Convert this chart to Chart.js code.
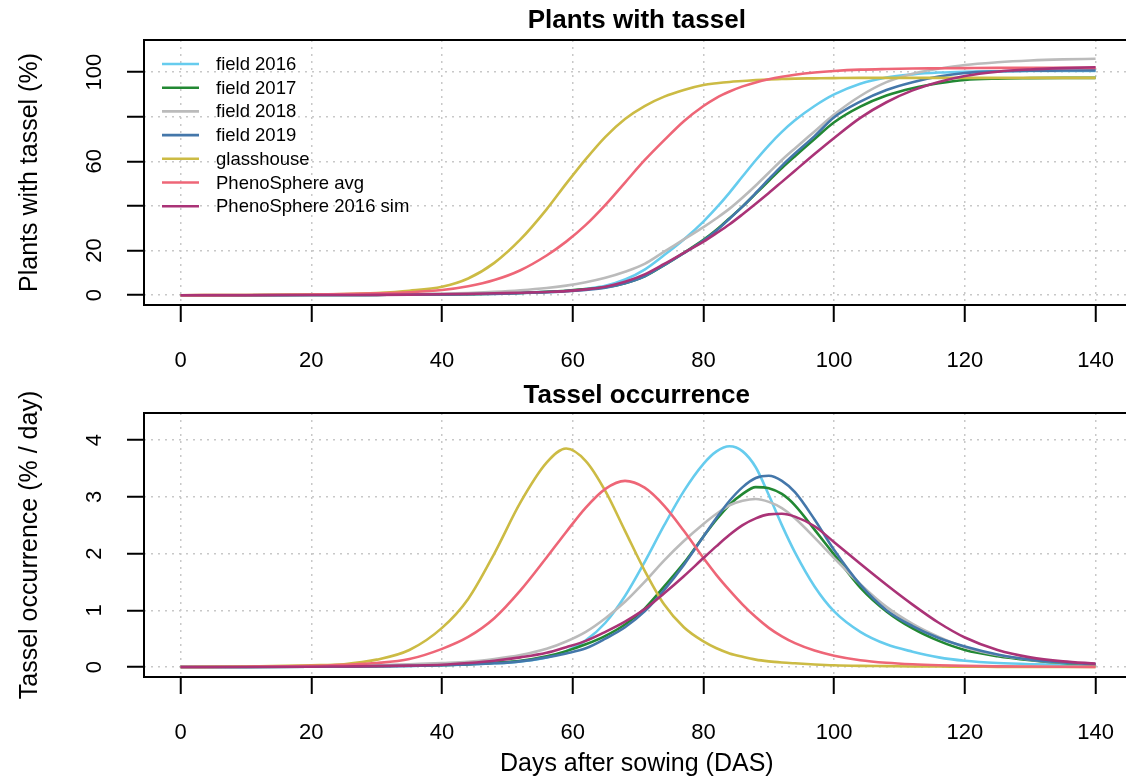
<!DOCTYPE html>
<html>
<head>
<meta charset="utf-8">
<script src="https://cdn.jsdelivr.net/npm/chart.js@4.4.1/dist/chart.umd.min.js"></script>
<style>
html, body { margin: 0; padding: 0; background: #fff; overflow: hidden; width: 1126px; height: 777px; }
canvas { position: absolute; left: 0; }
#topChart { top: 0; }
#bottomChart { top: 380px; }
</style>
</head>
<body>
<canvas id="topChart" width="1140" height="380"></canvas>
<canvas id="bottomChart" width="1140" height="397"></canvas>
<script>
// days after sowing, shared by every series
const days = [0, 10, 20, 25, 30, 35, 40, 44, 48, 52, 56, 59, 62, 65, 68, 71, 74, 77, 80, 82, 84, 86, 88, 90, 92, 94, 97, 100, 104, 108, 112, 116, 120, 125, 130, 135, 140];

const seriesNames = ["field 2016", "field 2017", "field 2018", "field 2019", "glasshouse", "PhenoSphere avg", "PhenoSphere 2016 sim"];
const seriesColors = ["#66CCEE", "#228833", "#BBBBBB", "#4477AA", "#CCBB44", "#EE6677", "#AA3377"];

// plants with tassel (%)
const tasselField2016 = [0, 0, 0.1, 0.1, 0.2, 0.3, 0.4, 0.6, 0.8, 1.1, 1.5, 1.9, 2.8, 4.2, 7, 11.5, 18, 25, 33, 39.2, 46, 53.3, 60.5, 67.2, 73.2, 78.4, 84.8, 90, 94.8, 97.6, 99, 99.8, 100.2, 100.4, 100.5, 100.5, 100.5];
const tasselField2017 = [0, 0, 0.05, 0.1, 0.15, 0.2, 0.3, 0.45, 0.65, 1, 1.5, 2, 2.7, 3.6, 5.4, 8.5, 13.5, 19, 24.8, 29.3, 34.5, 39.8, 45.5, 51.3, 57, 62.3, 70, 77.5, 84.5, 89.5, 92.8, 95, 96.5, 97.1, 97.3, 97.4, 97.4];
const tasselField2018 = [0, 0.1, 0.2, 0.3, 0.4, 0.5, 0.7, 1, 1.5, 2.2, 3.2, 4.3, 5.8, 7.8, 10.5, 14, 19.5, 25, 30.5, 34.5, 38.8, 43.8, 49.2, 54.9, 60.6, 65.8, 73.4, 81, 89.3, 95.5, 99.3, 101.5, 103.2, 104.4, 105.2, 105.7, 106];
const tasselField2019 = [0, 0, 0.05, 0.1, 0.15, 0.2, 0.3, 0.4, 0.6, 0.9, 1.3, 1.8, 2.4, 3.4, 5.4, 8.5, 13.5, 18.8, 24.5, 29, 34.3, 39.8, 45.8, 52, 58, 63.5, 71.3, 79.8, 86.8, 92, 95.5, 98, 99.6, 100.3, 100.6, 100.7, 100.8];
const tasselGlasshouse = [0, 0.1, 0.3, 0.5, 1, 2, 3.8, 7.5, 14.5, 25, 38.5, 50, 61, 71, 79, 84.8, 89, 92, 94.2, 95, 95.6, 96, 96.4, 96.7, 96.9, 97.1, 97.2, 97.3, 97.4, 97.4, 97.4, 97.4, 97.4, 97.4, 97.4, 97.4, 97.4];
const tasselPhenoAvg = [0, 0.1, 0.3, 0.5, 0.8, 1.3, 2.3, 4, 6.8, 11.2, 17.8, 24, 31.5, 40.5, 50.5, 60.5, 69.5, 78, 84.8, 88.5, 91.3, 93.6, 95.4, 96.8, 97.9, 98.8, 99.8, 100.5, 101.1, 101.4, 101.6, 101.7, 101.8, 101.9, 101.9, 101.9, 101.9];
const tasselPheno2016 = [0, 0, 0.05, 0.1, 0.15, 0.25, 0.4, 0.6, 0.85, 1.1, 1.45, 1.8, 2.6, 3.8, 6, 9.3, 14, 19, 24, 27.8, 31.8, 36.3, 41, 45.8, 50.8, 55.8, 63.3, 70.5, 79.5, 86.5, 91.8, 95.6, 98.3, 100.2, 101.2, 101.8, 102.2];

// tassel occurrence (% / day)
const rateField2016 = [0, 0, 0.005, 0.01, 0.015, 0.02, 0.03, 0.045, 0.065, 0.1, 0.17, 0.28, 0.47, 0.78, 1.25, 1.85, 2.5, 3.1, 3.58, 3.8, 3.89, 3.8, 3.52, 3.03, 2.5, 2.02, 1.42, 0.98, 0.62, 0.4, 0.27, 0.17, 0.11, 0.07, 0.05, 0.04, 0.03];
const rateField2017 = [0, 0, 0.005, 0.01, 0.015, 0.025, 0.035, 0.05, 0.075, 0.11, 0.19, 0.28, 0.4, 0.55, 0.75, 1.03, 1.42, 1.83, 2.3, 2.6, 2.86, 3.05, 3.17, 3.15, 3.05, 2.85, 2.42, 1.98, 1.4, 0.98, 0.68, 0.46, 0.3, 0.19, 0.12, 0.07, 0.05];
const rateField2018 = [0, 0.005, 0.01, 0.02, 0.03, 0.05, 0.07, 0.09, 0.14, 0.21, 0.32, 0.45, 0.62, 0.86, 1.15, 1.5, 1.88, 2.22, 2.52, 2.7, 2.85, 2.93, 2.96, 2.91, 2.8, 2.62, 2.28, 1.92, 1.46, 1.06, 0.76, 0.53, 0.35, 0.21, 0.13, 0.08, 0.05];
const rateField2019 = [0, 0, 0.005, 0.01, 0.015, 0.02, 0.03, 0.045, 0.065, 0.1, 0.17, 0.24, 0.33, 0.5, 0.7, 0.98, 1.36, 1.8, 2.3, 2.63, 2.93, 3.17, 3.33, 3.37, 3.28, 3.08, 2.6, 2.06, 1.45, 1.0, 0.72, 0.51, 0.36, 0.22, 0.13, 0.08, 0.05];
const rateGlasshouse = [0, 0.01, 0.03, 0.05, 0.13, 0.3, 0.69, 1.2, 2.0, 2.9, 3.6, 3.85, 3.63, 3.1, 2.4, 1.7, 1.1, 0.7, 0.45, 0.33, 0.24, 0.18, 0.13, 0.1, 0.08, 0.065, 0.045, 0.03, 0.02, 0.015, 0.01, 0.008, 0.005, 0.003, 0, 0, 0];
const ratePhenoAvg = [0, 0.005, 0.02, 0.04, 0.07, 0.14, 0.32, 0.53, 0.86, 1.35, 1.93, 2.38, 2.81, 3.14, 3.28, 3.16, 2.84, 2.4, 1.92, 1.62, 1.35, 1.1, 0.88, 0.69, 0.54, 0.42, 0.29, 0.2, 0.12, 0.075, 0.048, 0.031, 0.02, 0.012, 0.008, 0.005, 0.003];
const ratePheno2016 = [0, 0, 0.005, 0.01, 0.015, 0.025, 0.04, 0.07, 0.11, 0.17, 0.25, 0.35, 0.46, 0.62, 0.8, 1.02, 1.3, 1.6, 1.92, 2.13, 2.33, 2.5, 2.62, 2.69, 2.7, 2.65, 2.48, 2.2, 1.82, 1.45, 1.1, 0.78, 0.52, 0.3, 0.17, 0.1, 0.06];

const topSeries = [tasselField2016, tasselField2017, tasselField2018, tasselField2019, tasselGlasshouse, tasselPhenoAvg, tasselPheno2016];
const bottomSeries = [rateField2016, rateField2017, rateField2018, rateField2019, rateGlasshouse, ratePhenoAvg, ratePheno2016];

// labels R kept on the y axes (40 and 80 were dropped for overlap)
const topYLabels = [0, 20, 60, 100];
const bottomYLabels = [0, 1, 2, 3, 4];

const FONT = "'Liberation Sans', Arial, Helvetica, sans-serif";
Chart.defaults.font.family = FONT;
Chart.defaults.color = "#000";

const makeDatasets = series => series.map((values, i) => ({
	label: seriesNames[i],
	data: values.map((v, k) => ({x: days[k], y: v})),
	borderColor: seriesColors[i],
	borderWidth: 2.6,
	pointRadius: 0,
	fill: false,
	cubicInterpolationMode: "monotone",
	order: series.length - i
}));

// box, main title, rotated y labels and y title, like base R
const framePlugin = {
	id: "frame",
	afterDraw(chart, args, opts) {
		const {ctx, chartArea: a} = chart;
		const ys = chart.scales.y;
		ctx.save();
		ctx.strokeStyle = "#000";
		ctx.lineWidth = 2;
		ctx.strokeRect(a.left, a.top, a.right - a.left, a.bottom - a.top);
		ctx.fillStyle = "#000";
		ctx.textAlign = "center";
		ctx.textBaseline = "middle";
		ctx.font = `bold 26px ${FONT}`;
		ctx.fillText(opts.title, (a.left + a.right) / 2, opts.titleY);
		ctx.font = `22px ${FONT}`;
		opts.yLabels.forEach(v => {
			ctx.save();
			ctx.translate(95, ys.getPixelForValue(v));
			ctx.rotate(-Math.PI / 2);
			ctx.fillText(String(v), 0, 0);
			ctx.restore();
		});
		ctx.font = `25px ${FONT}`;
		ctx.save();
		ctx.translate(30, (a.top + a.bottom) / 2);
		ctx.rotate(-Math.PI / 2);
		ctx.fillText(opts.yTitle, 0, 0);
		ctx.restore();
		ctx.restore();
	}
};

// legend inside the top panel, no box
const legendPlugin = {
	id: "insideLegend",
	afterDraw(chart) {
		const {ctx} = chart;
		ctx.save();
		ctx.font = `18.5px ${FONT}`;
		ctx.textBaseline = "middle";
		ctx.textAlign = "left";
		seriesNames.forEach((name, i) => {
			const y = 64 + i * 23.7;
			ctx.strokeStyle = seriesColors[i];
			ctx.lineWidth = 2.6;
			ctx.beginPath();
			ctx.moveTo(162, y);
			ctx.lineTo(199, y);
			ctx.stroke();
			ctx.fillStyle = "#000";
			ctx.fillText(name, 216, y + 1);
		});
		ctx.restore();
	}
};

const gridStyle = {
	color: "#C8C8C8",
	lineWidth: 1.5,
	tickColor: "#000",
	tickWidth: 2,
	tickLength: 17,
	tickBorderDash: []
};
// in Chart.js v4 the grid line dash is read from the border options
const borderStyle = {display: false, dash: [2, 5]};

const baseOptions = (yMin, yMax, yStep, xHeight, padTop, xTitle) => ({
	responsive: false,
	devicePixelRatio: 1,
	animation: false,
	events: [],
	layout: {padding: {top: padTop, right: 2, left: 0, bottom: 0}},
	plugins: {legend: {display: false}, tooltip: {enabled: false}},
	scales: {
		x: {
			type: "linear",
			min: -5.6,
			max: 145.2,
			grid: gridStyle,
			border: borderStyle,
			ticks: {stepSize: 20, includeBounds: false, padding: 26, font: {size: 22}, color: "#000", maxRotation: 0},
			title: xTitle ? {display: true, text: xTitle, font: {size: 25}, color: "#000", padding: {top: 0, bottom: -2}} : {display: false},
			afterFit: s => { s.height = xHeight; }
		},
		y: {
			type: "linear",
			min: yMin,
			max: yMax,
			grid: gridStyle,
			border: borderStyle,
			ticks: {stepSize: yStep, includeBounds: false, display: false},
			afterFit: s => { s.width = 144; }
		}
	}
});

const topOptions = baseOptions(-4.4, 114.4, 20, 75, 40, null);
topOptions.plugins.frame = {title: "Plants with tassel", titleY: 21, yLabels: topYLabels, yTitle: "Plants with tassel (%)"};

new Chart(document.getElementById("topChart"), {
	type: "line",
	data: {datasets: makeDatasets(topSeries)},
	options: topOptions,
	plugins: [framePlugin, legendPlugin]
});

const bottomOptions = baseOptions(-0.176, 4.476, 1, 100, 33, "Days after sowing (DAS)");
bottomOptions.plugins.frame = {title: "Tassel occurrence", titleY: 16, yLabels: bottomYLabels, yTitle: "Tassel occurrence (% / day)"};

new Chart(document.getElementById("bottomChart"), {
	type: "line",
	data: {datasets: makeDatasets(bottomSeries)},
	options: bottomOptions,
	plugins: [framePlugin]
});
</script>
</body>
</html>
